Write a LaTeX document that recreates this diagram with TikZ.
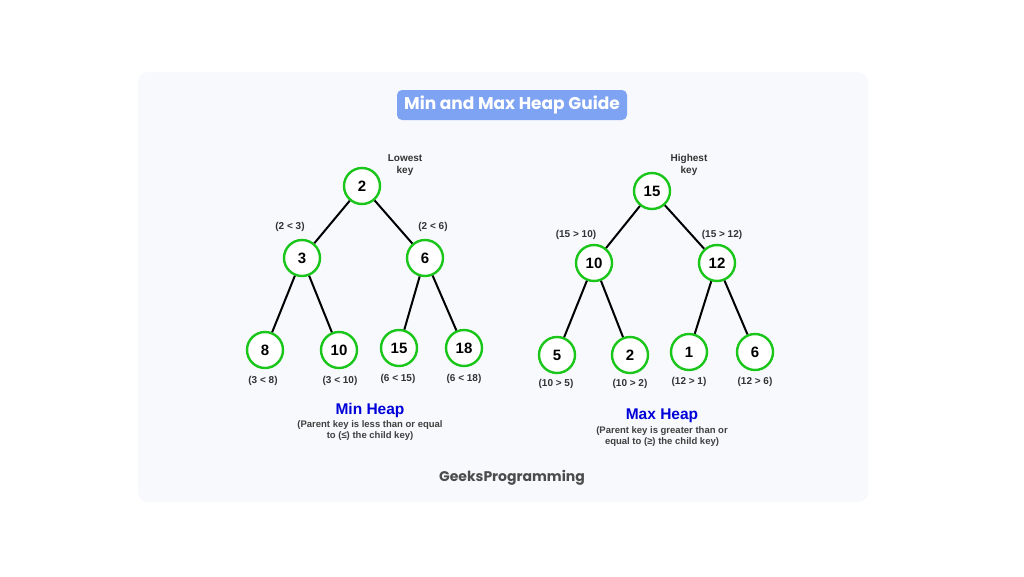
\documentclass[tikz,border=0pt]{standalone}
\usepackage{fontspec}
\setmainfont{Liberation Sans}
\newfontfamily\pop{Poppins}
\begin{document}
\begin{tikzpicture}[x=1pt,y=-1pt,
  hn/.style={circle,draw=green!75!black!90,line width=2.4pt,fill=white,minimum size=36pt,inner sep=0pt,font=\bfseries\fontsize{15}{15}\selectfont},
  ed/.style={line width=2pt,black},
  lb/.style={font=\bfseries\fontsize{10}{11.5}\selectfont,text=black!80,align=center},
  captxt/.style={font=\bfseries\fontsize{9.5}{11}\selectfont,text=black!75,align=center},
  ttl/.style={font=\bfseries\fontsize{15.5}{16}\selectfont,text=blue!85!black}]
\useasboundingbox (0,0) rectangle (1024,576);
\fill[white] (0,0) rectangle (1024,576);
\fill[fill={rgb,255:red,247;green,249;blue,252},rounded corners=10pt] (138,72) rectangle (868,502);
\node[fill={rgb,255:red,127;green,163;blue,243},rounded corners=5pt,minimum width=230pt,minimum height=30pt,text=white,font=\pop\bfseries\fontsize{17}{17}\selectfont] (title) at (512,105) {Min and Max Heap Guide};
% min heap
\node[hn] (a) at (362,186) {2};
\node[hn] (b) at (302,258) {3};
\node[hn] (c) at (425,258) {6};
\node[hn] (d) at (265,350) {8};
\node[hn] (e) at (339,350) {10};
\node[hn] (f) at (399,348) {15};
\node[hn] (g) at (464,348) {18};
\foreach \p/\q in {a/b,a/c,b/d,b/e,c/f,c/g} \draw[ed] (\p) -- (\q);
\node[lb] (l1) at (405,165) {Lowest\\key};
\node[lb] (l2) at (290,227) {(2 < 3)};
\node[lb] (l3) at (433,227) {(2 < 6)};
\node[lb] (l4) at (263,381) {(3 < 8)};
\node[lb] (l5) at (340,381) {(3 < 10)};
\node[lb] (l6) at (398,379) {(6 < 15)};
\node[lb] (l7) at (464,379) {(6 < 18)};
\node[ttl] (t1) at (370,410) {Min Heap};
\node[captxt] (c1) at (370,431) {(Parent key is less than or equal\\to (≤) the child key)};
% max heap
\node[hn] (A) at (652,191) {15};
\node[hn] (B) at (594,263) {10};
\node[hn] (C) at (717,263) {12};
\node[hn] (D) at (557,355) {5};
\node[hn] (E) at (630,355) {2};
\node[hn] (F) at (689,352) {1};
\node[hn] (G) at (755,352) {6};
\foreach \p/\q in {A/B,A/C,B/D,B/E,C/F,C/G} \draw[ed] (\p) -- (\q);
\node[lb] (m1) at (689,165) {Highest\\key};
\node[lb] (m2) at (576,235) {(15 > 10)};
\node[lb] (m3) at (722,235) {(15 > 12)};
\node[lb] (m4) at (556,384) {(10 > 5)};
\node[lb] (m5) at (630,384) {(10 > 2)};
\node[lb] (m6) at (689,382) {(12 > 1)};
\node[lb] (m7) at (755,382) {(12 > 6)};
\node[ttl] (t2) at (662,416) {Max Heap};
\node[captxt] (c2) at (662,437) {(Parent key is greater than or\\equal to (≥) the child key)};
\node[font=\pop\bfseries\fontsize{14}{14}\selectfont,text=black!70] (gp) at (512,478) {GeeksProgramming};
\end{tikzpicture}
\end{document}
